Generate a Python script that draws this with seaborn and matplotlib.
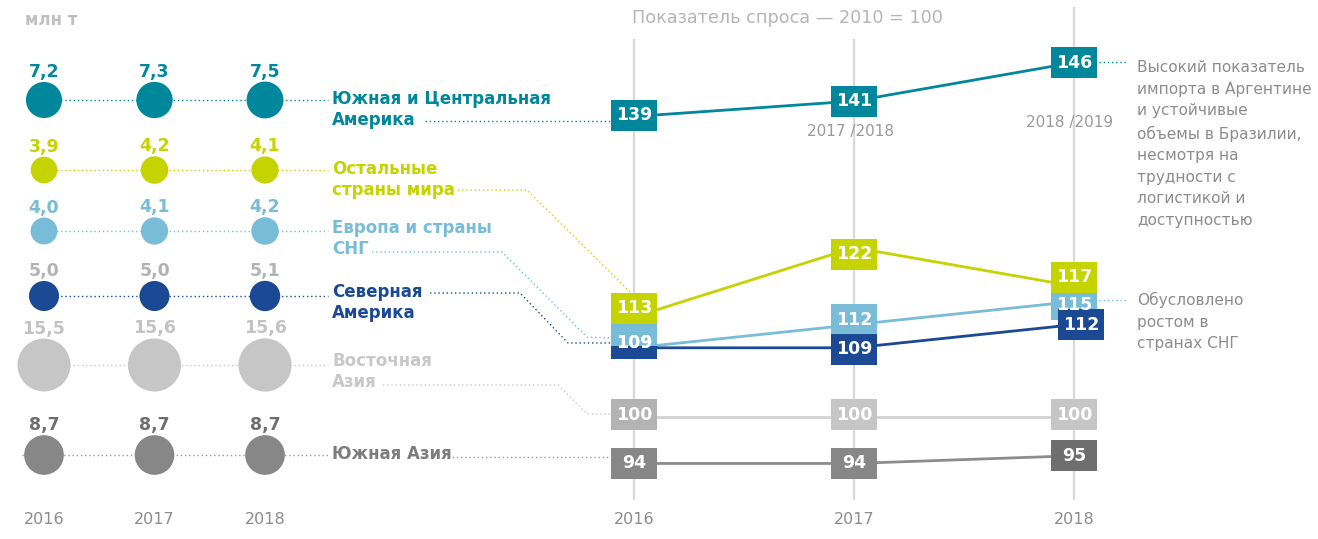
import numpy as np
import pandas as pd
import seaborn as sns
import matplotlib.pyplot as plt
from matplotlib.path import Path

# ---- data -------------------------------------------------------------
years = [2016, 2017, 2018]
regions = ["sca", "rest", "eur", "nam", "easia", "sasia"]
region_names = ["Южная и Центральная\nАмерика", "Остальные\nстраны мира",
                "Европа и страны\nСНГ", "Северная\nАмерика",
                "Восточная\nАзия", "Южная Азия"]

# volumes, million tonnes
volume_sca = [7.2, 7.3, 7.5]
volume_rest = [3.9, 4.2, 4.1]
volume_eur = [4.0, 4.1, 4.2]
volume_nam = [5.0, 5.0, 5.1]
volume_easia = [15.5, 15.6, 15.6]
volume_sasia = [8.7, 8.7, 8.7]

# demand index, 2010 = 100
index_sca = [139, 141, 146]
index_rest = [113, 122, 117]
index_eur = [109, 112, 115]
index_nam = [109, 109, 112]
index_easia = [100, 100, 100]
index_sasia = [94, 94, 95]

season_labels = {2017: "2017 /2018", 2018: "2018 /2019"}
note_sca = ("Высокий показатель\nимпорта в Аргентине\nи устойчивые\nобъемы в Бразилии,\n"
            "несмотря на\nтрудности с\nлогистикой и\nдоступностью")
note_eur = "Обусловлено\nростом в\nстранах СНГ"

# ---- style ------------------------------------------------------------
colors = {"sca": "#00879c", "rest": "#c5d300", "eur": "#79bcd8",
          "nam": "#1b4994", "easia": "#c6c6c6", "sasia": "#878787"}
box_colors = dict(colors, easia_dark="#b3b3b3", sasia_dark="#6e6e6e")
box_shade = {("easia", 2016): "easia_dark", ("sasia", 2018): "sasia_dark"}
value_colors = {"sca": "#00879c", "rest": "#c5d300", "eur": "#79bcd8",
                "nam": "#b3b3b3", "easia": "#c3c3c3", "sasia": "#6e6e6e"}
name_colors = {"sca": "#00879c", "rest": "#c5d300", "eur": "#79bcd8",
               "nam": "#1b4994", "easia": "#c8c8c8", "sasia": "#7d7d7d"}
line_colors = {"sca": "#00879c", "rest": "#c5d300", "eur": "#79bcd8",
               "nam": "#1b4994", "easia": "#d3d3d3", "sasia": "#8c8c8c"}
dot_line_colors = {"sca": "#00879c", "rest": "#c5d300", "eur": "#79bcd8",
                   "nam": "#1b4994", "easia": "#c8c8c8", "sasia": "#9a9a9a"}
GREY = "#8c8c8c"
DOTS = (0, (1, 2))
PT = 0.72  # points per pixel at dpi 100

row_y = {"sca": 100, "rest": 170, "eur": 231, "nam": 296, "easia": 365, "sasia": 455}
name_y = {"sca": 100, "rest": 170, "eur": 229, "nam": 293, "easia": 362, "sasia": 455}

# nudges of index boxes (pixels, + = down / right) to avoid overlaps
box_dy = {("sca", 2016): -1, ("rest", 2016): -8.5, ("rest", 2017): 6.5, ("rest", 2018): -9,
          ("eur", 2016): -17.5, ("eur", 2017): -5, ("eur", 2018): 3,
          ("nam", 2016): -4.5, ("nam", 2017): 1.5,
          ("easia", 2016): -2.5, ("easia", 2017): -2.5, ("easia", 2018): -2.5}
text_dy = {("eur", 2016): -4.5}
box_dx = {("nam", 2018): 7}
layer = {("nam", 2016): -1.5}
draw_order = ["easia", "sasia", "eur", "nam", "rest", "sca"]

volumes = [volume_sca, volume_rest, volume_eur, volume_nam, volume_easia, volume_sasia]
indices = [index_sca, index_rest, index_eur, index_nam, index_easia, index_sasia]

vol_df = pd.DataFrame([{"region": r, "year": y, "volume": v, "row": row_y[r]}
                       for r, vals in zip(regions, volumes) for y, v in zip(years, vals)])
idx_df = pd.DataFrame([{"region": r, "year": y, "index": v}
                       for r, vals in zip(regions, indices) for y, v in zip(years, vals)])

sns.set_style("white")
plt.rcParams["font.family"] = ["DejaVu Sans"]

fig = plt.figure(figsize=(13.18, 5.39), dpi=100)

# ---- left: volume bubbles --------------------------------------------
ax_l = fig.add_axes([0, 39 / 539, 330 / 1318, 493 / 539])
ax_l.set_xlim(2015.602, 2018.588)
ax_l.set_ylim(500, 7)
for r in regions:
    start = 2015.80 if r == "sasia" else 2016
    ax_l.hlines(row_y[r], start, 2018.57, colors=dot_line_colors[r],
                linestyles=DOTS, lw=1, zorder=1)

K = 93.8  # bubble area (pt^2) per million tonnes
vmin, vmax = vol_df["volume"].min(), vol_df["volume"].max()
sns.scatterplot(data=vol_df, x="year", y="row", hue="region", palette=colors,
                size="volume", sizes=(K * vmin, K * vmax), size_norm=(vmin, vmax),
                legend=False, linewidth=0, zorder=2, ax=ax_l)
for _, row in vol_df.iterrows():
    r_px = 13.45 * np.sqrt(row["volume"]) / 2
    ax_l.annotate(f"{row['volume']:.1f}".replace(".", ","), (row["year"], row["row"]),
                  xytext=(0, (r_px + 10) * PT), textcoords="offset points",
                  ha="center", va="center", fontsize=12.5, fontweight="bold",
                  color=value_colors[row["region"]])

ax_l.set_xticks(years)
ax_l.set_yticks([])
ax_l.tick_params(axis="x", length=0, pad=9, labelsize=11.5, labelcolor=GREY)
ax_l.set_xlabel("")
ax_l.set_ylabel("")
sns.despine(ax=ax_l, left=True, bottom=True)
ax_l.patch.set_alpha(0)

# ---- right: demand index slope chart ---------------------------------
ax_r = fig.add_axes([560 / 1318, 39 / 539, 758 / 1318, 493 / 539])
ax_r.set_xlim(2015.6636, 2019.109)
ylo, yhi = 89.26, 153.2
ax_r.set_ylim(ylo, yhi)
ppu = 493 / (yhi - ylo)
ax_r.vlines(years, ylo, [149.05, 149.05, yhi], colors="#d9d9d9", lw=1.6, zorder=0)

sns.lineplot(data=idx_df, x="year", y="index", hue="region", palette=line_colors,
             legend=False, linewidth=2, zorder=2, ax=ax_r)

box_df = idx_df.copy()
keys = list(zip(box_df["region"], box_df["year"]))
box_df["shade"] = [box_shade.get(k, k[0]) for k in keys]
box_df["layer"] = [draw_order.index(k[0]) + layer.get(k, 0) for k in keys]
box_df["bx"] = [k[1] + box_dx.get(k, 0) / 220 for k in keys]
box_df["by"] = [v - box_dy.get(k, 0) / ppu for k, v in zip(keys, box_df["index"])]
box_df = box_df.sort_values("layer", kind="stable")

box_marker = Path([(-23, -15.5), (23, -15.5), (23, 15.5), (-23, 15.5), (-23, -15.5)],
                  closed=True)
sns.scatterplot(data=box_df, x="bx", y="by", hue="shade", palette=box_colors,
                marker=box_marker, s=(46 * PT) ** 2, linewidth=0, legend=False,
                zorder=3, ax=ax_r)
for _, row in box_df.iterrows():
    key = (row["region"], row["year"])
    ty = text_dy.get(key, box_dy.get(key, 0))
    ax_r.annotate(str(row["index"]), (row["year"], row["index"]),
                  xytext=(box_dx.get(key, 0) * PT, -ty * PT), textcoords="offset points",
                  ha="center", va="center", fontsize=12.5, fontweight="bold",
                  color="white", zorder=4)

for yr, lab in season_labels.items():
    top = idx_df.loc[(idx_df["region"] == "sca") & (idx_df["year"] == yr), "index"].iloc[0]
    ax_r.annotate(lab, (yr, top), xytext=(-4 * PT, -30 * PT if yr == 2017 else -60 * PT),
                  textcoords="offset points", ha="center", va="center",
                  fontsize=11, color="#9a9a9a")

ax_r.set_xticks(years)
ax_r.set_yticks([])
ax_r.tick_params(axis="x", length=0, pad=9, labelsize=11.5, labelcolor=GREY)
ax_r.set_xlabel("")
ax_r.set_ylabel("")
sns.despine(ax=ax_r, left=True, bottom=True)
ax_r.patch.set_alpha(0)

# ---- overlay: titles, names, leader lines (pixel coordinates) ---------
ov = fig.add_axes([0, 0, 1, 1])
ov.set_xlim(0, 1318)
ov.set_ylim(539, 0)
ov.axis("off")

ov.text(25, 20, "млн т", fontsize=12, color="#c0c0c0", fontweight="bold", va="center")
ov.text(632, 18, "Показатель спроса — 2010 = 100", fontsize=12.7, color="#b5b5b5",
        va="center")

for r, name in zip(regions, region_names):
    ov.text(332, name_y[r] - 10, name, fontsize=12, fontweight="bold",
            color=name_colors[r], va="top", ha="left", linespacing=1.2)

leaders = {
    "sca": [(425, 121), (612, 121)],
    "rest": [(458, 190), (527, 190), (630, 292)],
    "eur": [(372, 252), (502, 252), (587, 337), (612, 338)],
    "nam": [(430, 293), (520, 293), (568, 343), (612, 343)],
    "easia": [(383, 385), (558, 385), (587, 414), (612, 414)],
    "sasia": [(448, 457), (612, 457)],
}
for r, pts in leaders.items():
    xs, ys = zip(*pts)
    ov.plot(xs, ys, color=dot_line_colors[r], lw=1, ls=DOTS)

ov.plot([1099, 1128], [62, 62], color=colors["sca"], lw=1, ls=DOTS)
ov.plot([1099, 1128], [300, 300], color=colors["eur"], lw=1, ls=DOTS)
ov.text(1137, 60, note_sca, fontsize=11.1, color=GREY, va="top", linespacing=1.55)
ov.text(1137, 292, note_eur, fontsize=11.1, color=GREY, va="top", linespacing=1.55)

fig.savefig("out.png", dpi=100)
